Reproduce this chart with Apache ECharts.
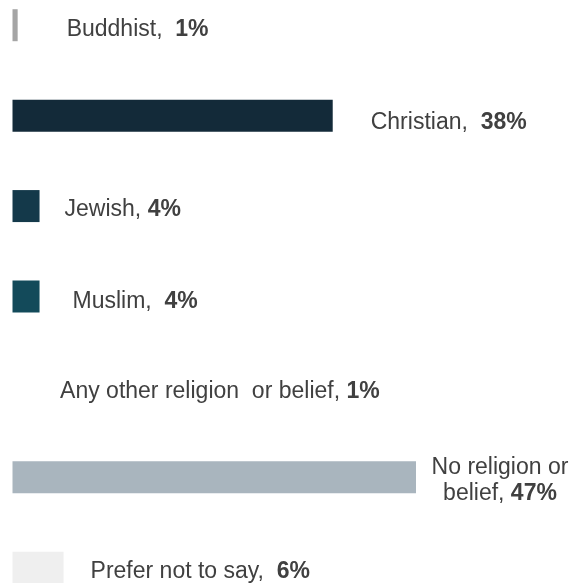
<!DOCTYPE html>
<html>
<head>
<meta charset="utf-8">
<script src="https://cdn.jsdelivr.net/npm/echarts@6/dist/echarts.min.js"></script>
<style>
html,body{margin:0;padding:0;background:#fff;}
#chart{width:574px;height:583px;}
</style>
</head>
<body>
<div id="chart"></div>
<script>
// Categories (top to bottom)
const categories = ['Buddhist', 'Christian', 'Jewish', 'Muslim', 'Any other religion or belief', 'No religion or belief', 'Prefer not to say'];
// Displayed percentage labels
const labelValues = ['1%', '38%', '4%', '4%', '1%', '47%', '6%'];
// Bar lengths (percent)
const barValues = [0.6, 37.3, 3.15, 3.15, 1, 47, 5.95];
// Bar colours
const barColors = ['#a5a5a5', '#132a39', '#14394a', '#134a5a', '#ffffff', '#a9b5be', '#efefef'];
// Label text for the name part (as laid out in the source)
const labelNames = ['Buddhist,  ', 'Christian,  ', 'Jewish, ', 'Muslim,  ', 'Any other religion  or belief, ', 'No religion or\nbelief, ', 'Prefer not to say,  '];
// Label placement tweaks
const labelDist = [49, 38, 25, 33, 39, 84, 27];
const labelDy = [4, 7, 4, 5, 5, 3, 4];

const chart = echarts.init(document.getElementById('chart'), null, {renderer: 'canvas'});

const data = barValues.map((v, i) => {
  const item = {
    value: v,
    itemStyle: {color: barColors[i]},
    label: {
      distance: labelDist[i],
      offset: [0, labelDy[i]],
      formatter: () => {
        const parts = labelNames[i].split('\n');
        if (parts.length > 1) {
          return '{n|' + parts[0] + '}\n{n|' + parts[1] + '}{b|' + labelValues[i] + '}';
        }
        return '{n|' + labelNames[i] + '}{b|' + labelValues[i] + '}';
      }
    }
  };
  if (i === 5) {
    item.label.align = 'center';
  }
  return item;
});

chart.setOption({
  animation: false,
  backgroundColor: '#ffffff',
  grid: {left: 12.5, width: 515.1, top: -20, height: 633, outerBoundsMode: 'none', containLabel: false},
  xAxis: {
    type: 'value', min: 0, max: 60,
    show: false
  },
  yAxis: {
    type: 'category', data: categories, inverse: true,
    show: false
  },
  series: [{
    type: 'bar',
    data: data,
    barWidth: 32,
    label: {
      show: true,
      position: 'right',
      color: '#404040',
      fontFamily: 'Liberation Sans, Arial, sans-serif',
      fontSize: 23,
      lineHeight: 26,
      rich: {
        n: {fontFamily: 'Liberation Sans, Arial, sans-serif', fontSize: 23, color: '#404040', lineHeight: 26},
        b: {fontFamily: 'Liberation Sans, Arial, sans-serif', fontSize: 23, color: '#404040', fontWeight: 'bold', lineHeight: 26}
      }
    }
  }]
});
</script>
</body>
</html>
